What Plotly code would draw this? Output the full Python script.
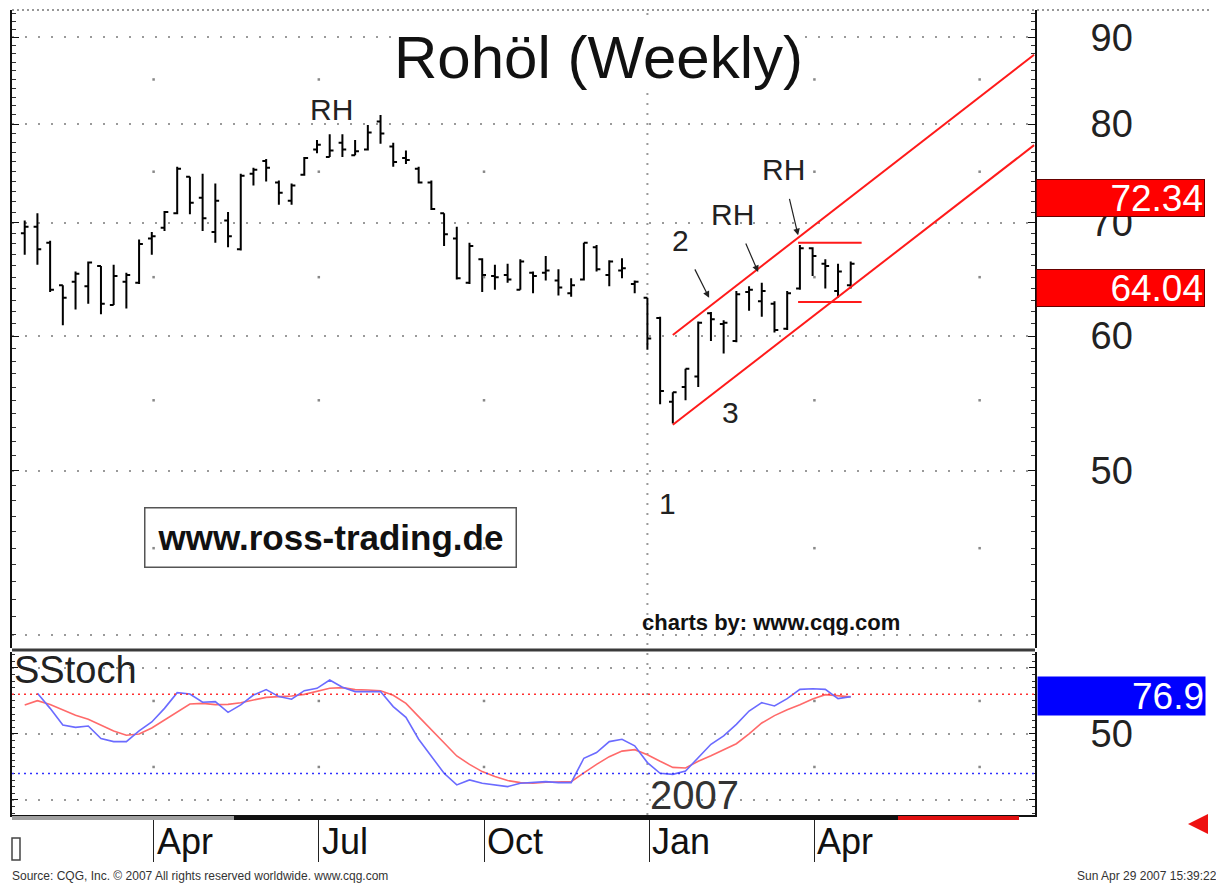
import math
import pandas as pd
import plotly.graph_objects as go

# ---------------- data ----------------
first_week = "2006-01-23"
n_weeks = 66
dates = pd.date_range(first_week, periods=n_weeks, freq="7D")

opens = [69.0, 69.6, 68.1, 64.3, 64.6, 64.2, 66.0, 62.6, 64.6, 64.5,
         68.5, 69.5, 70.9, 74.5, 72.4, 69.1, 70.2, 67.5, 74.8, 76.1,
         73.9, 72.1, 74.7, 77.3, 76.5, 78.0, 76.7, 77.3, 80.3, 77.6,
         76.4, 75.3, 73.9, 70.9, 68.5, 64.5, 66.6, 65.1, 65.2, 63.9,
         65.4, 65.4, 64.7, 63.6, 64.8, 67.7, 65.2, 65.6, 64.4, 63.2,
         61.5, 54.9, 56.0, 56.8, 61.9, 61.0, 59.6, 63.7, 62.9, 62.7,
         60.6, 64.0, 67.6, 66.2, 63.8, 64.3]
highs = [70.2, 70.9, 68.3, 64.3, 65.5, 66.4, 66.0, 66.1, 65.4, 68.4,
         69.1, 71.1, 75.5, 74.5, 74.8, 73.8, 71.0, 74.8, 75.4, 76.3,
         74.1, 73.8, 76.5, 78.3, 78.9, 78.9, 78.3, 79.9, 81.0, 78.0,
         77.2, 75.5, 74.1, 70.9, 69.6, 68.1, 66.7, 66.1, 66.2, 66.6,
         65.5, 66.9, 65.7, 64.9, 68.1, 67.9, 66.5, 66.7, 64.7, 63.2,
         61.6, 55.6, 57.4, 61.2, 62.0, 61.3, 63.8, 64.2, 64.5, 62.9,
         63.8, 67.9, 67.7, 66.6, 66.2, 66.4]
lows = [67.0, 66.1, 63.7, 60.9, 62.2, 62.7, 61.8, 62.6, 62.3, 64.4,
        67.0, 69.2, 70.8, 70.8, 69.2, 68.1, 67.7, 67.4, 73.6, 74.0,
        71.7, 71.7, 74.6, 76.9, 76.5, 76.5, 76.7, 77.2, 77.9, 75.5,
        75.8, 73.8, 71.2, 67.8, 64.8, 64.4, 63.7, 63.9, 64.5, 63.9,
        63.6, 64.7, 63.4, 63.3, 64.7, 65.5, 64.2, 64.9, 63.6, 58.9,
        54.7, 53.3, 55.0, 56.0, 59.6, 58.6, 59.5, 62.1, 61.6, 60.3,
        60.5, 63.9, 65.1, 64.0, 63.2, 64.0]
closes = [69.6, 67.5, 63.9, 63.2, 65.3, 66.3, 62.7, 65.1, 65.2, 68.0,
          68.7, 71.0, 75.3, 71.9, 70.4, 72.1, 68.7, 74.6, 75.2, 75.4,
          72.9, 73.6, 76.4, 77.8, 77.2, 77.3, 77.1, 79.1, 79.0, 76.0,
          76.2, 73.9, 71.3, 68.9, 64.9, 67.8, 65.2, 65.0, 64.8, 66.4,
          65.1, 65.6, 64.1, 64.3, 68.1, 65.7, 66.4, 65.8, 64.6, 59.8,
          55.7, 55.6, 57.4, 61.1, 61.4, 61.1, 63.5, 63.9, 63.8, 60.5,
          63.6, 67.6, 66.9, 66.0, 65.5, 66.2]

# slow stochastic: fast line (blue) and signal line (red)
stoch_k = [None, 80.8, 69.4, 56.8, 55.0, 56.0, 46.5, 44.2, 44.2, 52.3,
           59.1, 69.4, 81.3, 80.3, 74.0, 74.5, 66.4, 72.0, 79.5, 83.6,
           78.3, 76.3, 82.8, 84.6, 90.9, 85.4, 82.1, 82.1, 82.1, 70.7,
           62.6, 46.0, 32.8, 20.2, 11.4, 15.2, 12.6, 11.1, 10.1, 12.6,
           13.1, 13.9, 13.1, 13.1, 31.6, 35.9, 44.2, 46.0, 41.0, 28.3,
           20.2, 19.4, 21.9, 32.0, 42.2, 48.5, 57.3, 67.4, 73.7, 71.2,
           76.8, 83.8, 84.3, 83.8, 76.8, 78.3]
stoch_d = [71.9, 75.2, 72.4, 68.1, 64.1, 61.1, 56.5, 52.3, 49.0, 50.0,
           54.5, 60.6, 66.9, 72.7, 73.2, 72.2, 72.4, 73.7, 75.7, 77.7,
           78.3, 78.8, 80.0, 82.1, 84.6, 85.1, 83.6, 83.3, 82.8, 79.3,
           73.2, 63.1, 53.0, 42.9, 33.3, 27.0, 21.5, 17.7, 14.7, 13.1,
           12.6, 13.4, 13.9, 13.9, 20.5, 27.0, 32.8, 37.0, 38.1, 34.3,
           29.3, 24.7, 24.2, 29.3, 33.5, 38.1, 42.6, 50.0, 58.3, 63.9,
           68.4, 72.2, 76.5, 79.8, 79.0, 78.1]

# trend channel and consolidation range
channel_dates = ["2007-01-15", "2007-08-02"]
upper_channel = [60.1, 87.9]
lower_channel = [53.2, 77.75]
range_dates = ["2007-03-25", "2007-04-29"]
range_high = [68.1, 68.1]
range_low = [62.85, 62.85]

# axes
x_range = ["2006-01-16", "2007-08-02 12:00"]
price_range = [39.3, 93.4]
price_ticks = [40, 50, 60, 70, 80, 90]
price_tick_text = ["", "50", "60", "70", "80", "90"]
stoch_range = [-11.4, 112.1]
stoch_ticks = [0, 50, 100]
stoch_tick_text = ["", "50", ""]
month_ticks = ["2006-04-04", "2006-07-04", "2006-10-03", "2007-01-02", "2007-04-03"]
month_labels = ["Apr", "Jul", "Oct", "Jan", "Apr"]
dot_columns = ["2006-04-04", "2006-07-04", "2006-10-03", "2007-04-03", "2007-07-03"]
price_half_levels = [45, 55, 65, 75, 85]
stoch_half_levels = [25, 75]
year_start = "2007-01-01"
year_label = "2007"
overbought, oversold = 80, 20
last_prices = [72.34, 64.04]
stoch_last = 76.9

# annotations: (date, price, text)
labels_main = [("2006-07-11", 81.6, "RH"), ("2007-01-19", 68.3, "2"),
               ("2007-02-17", 70.8, "RH"), ("2007-03-17", 75.2, "RH"),
               ("2007-02-16", 54.1, "3"), ("2007-01-12", 47.8, "1")]
arrows_main = [("2007-02-04", 63.2, -15, -30), ("2007-03-03", 65.45, -13, -30),
               ("2007-03-25", 68.8, -9, -38)]

FONT = "Liberation Sans, Arial, sans-serif"
GRID = "#9a9a9a"

# page body adds an 8px offset; work in reference pixels and convert
PW, PH = 1023, 805          # plot area size
PX0, PY0 = 12, 10           # plot area top-left in reference pixels


def px(xr):
    return (xr - PX0) / PW


def py(yr):
    return (PY0 + PH - yr) / PH


fig = go.Figure()

fig.add_trace(go.Ohlc(
    x=dates, open=opens, high=highs, low=lows, close=closes,
    increasing=dict(line=dict(color="black", width=2)),
    decreasing=dict(line=dict(color="black", width=2)),
    tickwidth=0.3, xaxis="x", yaxis="y", showlegend=False, hoverinfo="skip"))

for ys in (upper_channel, lower_channel):
    fig.add_trace(go.Scatter(x=channel_dates, y=ys, mode="lines",
                             line=dict(color="#ff1a1a", width=2),
                             xaxis="x", yaxis="y", showlegend=False, hoverinfo="skip"))
for ys in (range_high, range_low):
    fig.add_trace(go.Scatter(x=range_dates, y=ys, mode="lines",
                             line=dict(color="#ff1a1a", width=2),
                             xaxis="x", yaxis="y", showlegend=False, hoverinfo="skip"))

# sparse grid dots at intermediate levels
fig.add_trace(go.Scatter(
    x=[d for d in dot_columns for _ in price_half_levels],
    y=[v for _ in dot_columns for v in price_half_levels],
    mode="markers", marker=dict(size=2.5, color="#888", symbol="square"),
    xaxis="x", yaxis="y", showlegend=False, hoverinfo="skip"))
fig.add_trace(go.Scatter(
    x=[d for d in dot_columns for _ in stoch_half_levels],
    y=[v for _ in dot_columns for v in stoch_half_levels],
    mode="markers", marker=dict(size=2.5, color="#888", symbol="square"),
    xaxis="x2", yaxis="y2", showlegend=False, hoverinfo="skip"))

fig.add_trace(go.Scatter(x=dates, y=stoch_d, mode="lines",
                         line=dict(color="#ff6a6a", width=1.6),
                         xaxis="x2", yaxis="y2", showlegend=False, hoverinfo="skip"))
fig.add_trace(go.Scatter(x=dates, y=stoch_k, mode="lines",
                         line=dict(color="#6b6bff", width=1.6),
                         xaxis="x2", yaxis="y2", showlegend=False, hoverinfo="skip"))

main_bottom = py(648)
stoch_top = py(652)

shapes = []
shapes.append(dict(type="line", xref="x2 domain", yref="y2", x0=0, x1=1,
                   y0=overbought, y1=overbought, line=dict(color="#ff3030", width=1.5, dash="2px,4px")))
shapes.append(dict(type="line", xref="x2 domain", yref="y2", x0=0, x1=1,
                   y0=oversold, y1=oversold, line=dict(color="#3030ff", width=1.5, dash="2px,4px")))
shapes.append(dict(type="line", xref="x", yref="paper", x0=year_start, x1=year_start,
                   y0=0, y1=1, line=dict(color=GRID, width=2, dash="2px,8px"), layer="below"))
shapes.append(dict(type="line", xref="paper", yref="paper", x0=0, x1=1,
                   y0=py(650), y1=py(650), line=dict(color="#3a3a3a", width=3)))
shapes.append(dict(type="line", xref="paper", yref="paper", x0=0, x1=px(1210),
                   y0=1, y1=1, line=dict(color="#777", width=1.5, dash="2px,3px")))
for x0, x1, col in [(12, 234, "#a0a0a0"), (234, 898, "#111"), (898, 1019, "#e01010")]:
    shapes.append(dict(type="rect", xref="paper", yref="paper",
                       x0=px(x0), x1=px(x1), y0=py(820), y1=py(816),
                       line=dict(width=0), fillcolor=col))
shapes.append(dict(type="rect", xref="paper", yref="paper",
                   x0=px(12), x1=px(20), y0=py(860), y1=py(838),
                   line=dict(color="#444", width=1.5)))

ann = []
ann.append(dict(text="Rohöl (Weekly)", xref="paper", yref="paper",
                x=px(598), y=py(58), xanchor="center", yanchor="middle", showarrow=False,
                font=dict(family=FONT, size=60, color="#111"), bgcolor="white"))
for d, p, t in labels_main:
    ann.append(dict(text=t, xref="x", yref="y", x=d, y=math.log10(p), showarrow=False,
                    xanchor="center", yanchor="middle",
                    font=dict(family=FONT, size=30, color="#222")))
for d, p, ax, ay in arrows_main:
    ann.append(dict(text="", xref="x", yref="y", x=d, y=math.log10(p), showarrow=True,
                    ax=ax, ay=ay, arrowhead=2, arrowsize=1.1, arrowwidth=1.2,
                    arrowcolor="#222"))
ann.append(dict(text="<b>www.ross-trading.de</b>", xref="paper", yref="paper",
                x=px(330), y=py(537.5), xanchor="center", yanchor="middle", showarrow=False,
                width=368, height=56, bordercolor="#555", borderwidth=1.5,
                font=dict(family=FONT, size=35, color="#111")))
ann.append(dict(text="<b>charts by: www.cqg.com</b>", xref="paper", yref="paper",
                x=px(771), y=py(622), xanchor="center", yanchor="middle", showarrow=False,
                font=dict(family=FONT, size=22, color="#111")))
for v in last_prices:
    ann.append(dict(text=f"{v:.2f}", xref="paper", yref="y", x=px(1036),
                    xanchor="left", yanchor="middle", y=math.log10(v), showarrow=False,
                    width=165, height=34, align="right", bgcolor="#ff0000",
                    bordercolor="#600", borderwidth=1,
                    font=dict(family=FONT, size=37, color="white")))
ann.append(dict(text=f"{stoch_last:.1f}", xref="paper", yref="y2", x=px(1037),
                xanchor="left", yanchor="middle", y=stoch_last, yshift=2, showarrow=False,
                width=165, height=36, align="right", bgcolor="#0000ff",
                font=dict(family=FONT, size=37, color="white")))
ann.append(dict(text="SStoch", xref="paper", yref="paper", x=px(12), xanchor="left",
                y=py(670), yanchor="middle", showarrow=False,
                font=dict(family=FONT, size=38, color="#222")))
ann.append(dict(text=year_label, xref="x2", yref="y2", x=year_start, xanchor="left",
                xshift=1, y=4, yanchor="middle", showarrow=False,
                font=dict(family=FONT, size=40, color="#333")))
for d, t in zip(month_ticks, month_labels):
    ann.append(dict(text=t, xref="x2", yref="paper", x=d, xanchor="left", xshift=1,
                    y=py(841), yanchor="middle", showarrow=False,
                    font=dict(family=FONT, size=36, color="#111")))
ann.append(dict(text="Source: CQG, Inc. © 2007 All rights reserved worldwide. www.cqg.com",
                xref="paper", yref="paper", x=px(10), xanchor="left",
                y=py(876), yanchor="middle", showarrow=False,
                font=dict(family=FONT, size=12, color="#333")))
ann.append(dict(text="Sun Apr 29 2007 15:39:22", xref="paper", yref="paper",
                x=px(1219), xanchor="right", y=py(876), yanchor="middle",
                showarrow=False, font=dict(family=FONT, size=12, color="#333")))
ann.append(dict(text="", xref="paper", yref="paper", x=px(1188), y=py(824),
                ax=16, ay=0, showarrow=True, arrowhead=2,
                arrowsize=1.0, arrowwidth=4, arrowcolor="#ee1111"))

fig.update_layout(
    width=1224 - 8, height=885 - 8,
    margin=dict(l=PX0 - 8, r=1224 - PX0 - PW, t=PY0 - 8, b=885 - PY0 - PH, autoexpand=False),
    paper_bgcolor="white", plot_bgcolor="white",
    showlegend=False,
    xaxis=dict(domain=[0, 1], anchor="y", range=x_range, type="date",
               showticklabels=False, showgrid=False, zeroline=False, ticks="",
               showline=False, rangeslider=dict(visible=False)),
    yaxis=dict(domain=[main_bottom, 1], anchor="x", type="log",
               range=[math.log10(price_range[0]), math.log10(price_range[1])],
               side="right", tickmode="array", tickvals=price_ticks, ticktext=price_tick_text,
               tickfont=dict(family=FONT, size=38, color="#222"),
               ticks="inside", ticklen=7, tickcolor="#111",
               ticklabelstandoff=46,
               showline=True, linecolor="#111", linewidth=2, mirror="ticks",
               showgrid=True, gridcolor=GRID, gridwidth=2, griddash="2px,11px",
               zeroline=False, automargin=False,
               minor=dict(tickvals=list(range(40, 94)), ticks="inside", ticklen=4,
                          tickcolor="#333", showgrid=False)),
    xaxis2=dict(domain=[0, 1], anchor="y2", range=x_range, type="date", matches="x",
                tickmode="array", tickvals=month_ticks, showticklabels=False,
                ticks="outside", ticklen=45, tickcolor="#222", tickwidth=1,
                showgrid=False, zeroline=False, automargin=False,
                showline=True, linecolor="#111", linewidth=2),
    yaxis2=dict(domain=[0, stoch_top], anchor="x2", range=stoch_range,
                side="right", tickmode="array", tickvals=stoch_ticks, ticktext=stoch_tick_text,
                tickfont=dict(family=FONT, size=38, color="#222"),
                ticks="inside", ticklen=6, tickcolor="#111",
                ticklabelstandoff=46, automargin=False,
                showline=True, linecolor="#111", linewidth=2, mirror="ticks",
                showgrid=True, gridcolor=GRID, gridwidth=2, griddash="2px,11px",
                zeroline=False,
                minor=dict(dtick=5, ticks="inside", ticklen=3, tickcolor="#333",
                           showgrid=False)),
    shapes=shapes,
    annotations=ann,
)

fig.write_html("out.html")
